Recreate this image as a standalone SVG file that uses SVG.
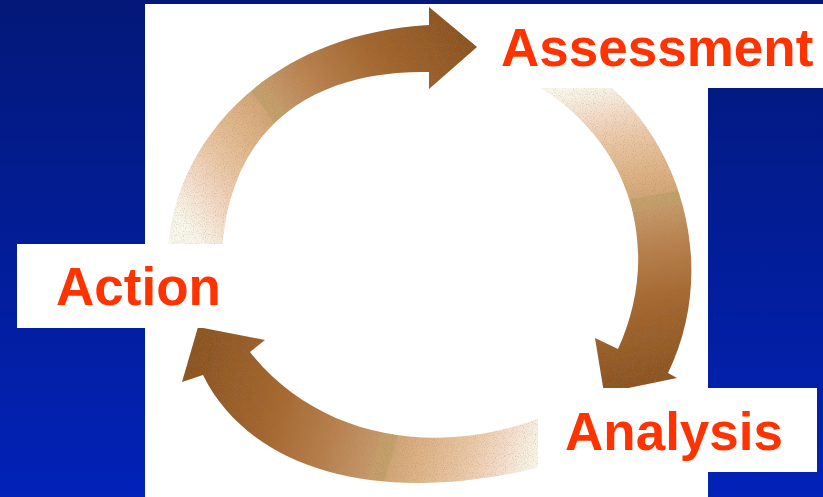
<svg xmlns="http://www.w3.org/2000/svg" width="823" height="497" viewBox="0 0 823 497">
  <defs>
    <linearGradient id="bg" x1="0" y1="0" x2="0" y2="1">
      <stop offset="0" stop-color="#031878"/>
      <stop offset="1" stop-color="#0222B8"/>
    </linearGradient>
    <linearGradient id="arrowStops">
      <stop offset="0" stop-color="#F8F7EA"/>
      <stop offset="0.05" stop-color="#F6EBDC"/>
      <stop offset="0.1" stop-color="#F4DCCB"/>
      <stop offset="0.2" stop-color="#E9C6A4"/>
      <stop offset="0.32" stop-color="#DDB286"/>
      <stop offset="0.395" stop-color="#D2A677"/>
      <stop offset="0.4" stop-color="#C4A06C"/>
      <stop offset="0.44" stop-color="#C39E6A"/>
      <stop offset="0.445" stop-color="#C6996A"/>
      <stop offset="0.58" stop-color="#B77F4C"/>
      <stop offset="0.75" stop-color="#A4672F"/>
      <stop offset="1" stop-color="#8C5422"/>
    </linearGradient>
    <linearGradient id="gTop" href="#arrowStops" gradientUnits="userSpaceOnUse" x1="196" y1="244" x2="470" y2="47"/>
    <linearGradient id="gRight" href="#arrowStops" gradientUnits="userSpaceOnUse" x1="570" y1="88" x2="622" y2="385"/>
    <linearGradient id="gBottom" href="#arrowStops" gradientUnits="userSpaceOnUse" x1="545" y1="442" x2="200" y2="340"/>
    <filter id="grain" x="0" y="0" width="1" height="1">
      <feTurbulence type="fractalNoise" baseFrequency="0.9" numOctaves="1" seed="3" result="n"/>
      <feColorMatrix in="n" type="matrix" values="0 0 0 0 0.3  0 0 0 0 0.2  0 0 0 0 0.1  1.2 0 0 0 -0.6" result="speck"/>
      <feComposite in="speck" in2="SourceGraphic" operator="in" result="s2"/>
      <feMerge><feMergeNode in="SourceGraphic"/><feMergeNode in="s2"/></feMerge>
    </filter>
    <style>
      .box { fill: #FFFFFF; }
      .label { font-family: "Liberation Sans", Arial, sans-serif; font-weight: bold; font-size: 53px; fill: #FF3300; }
      .arrow { stroke: none; filter: url(#grain); }
    </style>
  </defs>

  <rect x="0" y="0" width="823" height="497" fill="url(#bg)"/>
  <rect class="box" x="145" y="4" width="563" height="493"/>

  <g id="connectors">
    <path id="arrow-action-assessment" class="arrow" fill="url(#gTop)"
          d="M168,252 C172,150 260,35 429,25 L429,7 L477,47 L429,89 L429,72 C320,70 230,120 222,252 Z"/>
    <path id="arrow-assessment-analysis" class="arrow" fill="url(#gRight)"
          d="M603,80 C688,150 716,275 668,373 L677,378 L604,393 L595,338 L618,349 C655,270 650,150 528,80 Z"/>
    <path id="arrow-analysis-action" class="arrow" fill="url(#gBottom)"
          d="M545,466 C380,508 250,470 203,375 L182,382 L198,327 L265,340 L250,352 C320,440 440,458 545,416 Z"/>
  </g>

  <g id="node-assessment">
    <rect class="box" x="490" y="4" width="333" height="84"/>
    <text class="label" x="501" y="66">Assessment</text>
  </g>
  <g id="node-action">
    <rect class="box" x="17" y="244" width="223" height="84"/>
    <text class="label" x="56" y="305">Action</text>
  </g>
  <g id="node-analysis">
    <rect class="box" x="538" y="388" width="279" height="84"/>
    <text class="label" x="565" y="450">Analysis</text>
  </g>
</svg>
